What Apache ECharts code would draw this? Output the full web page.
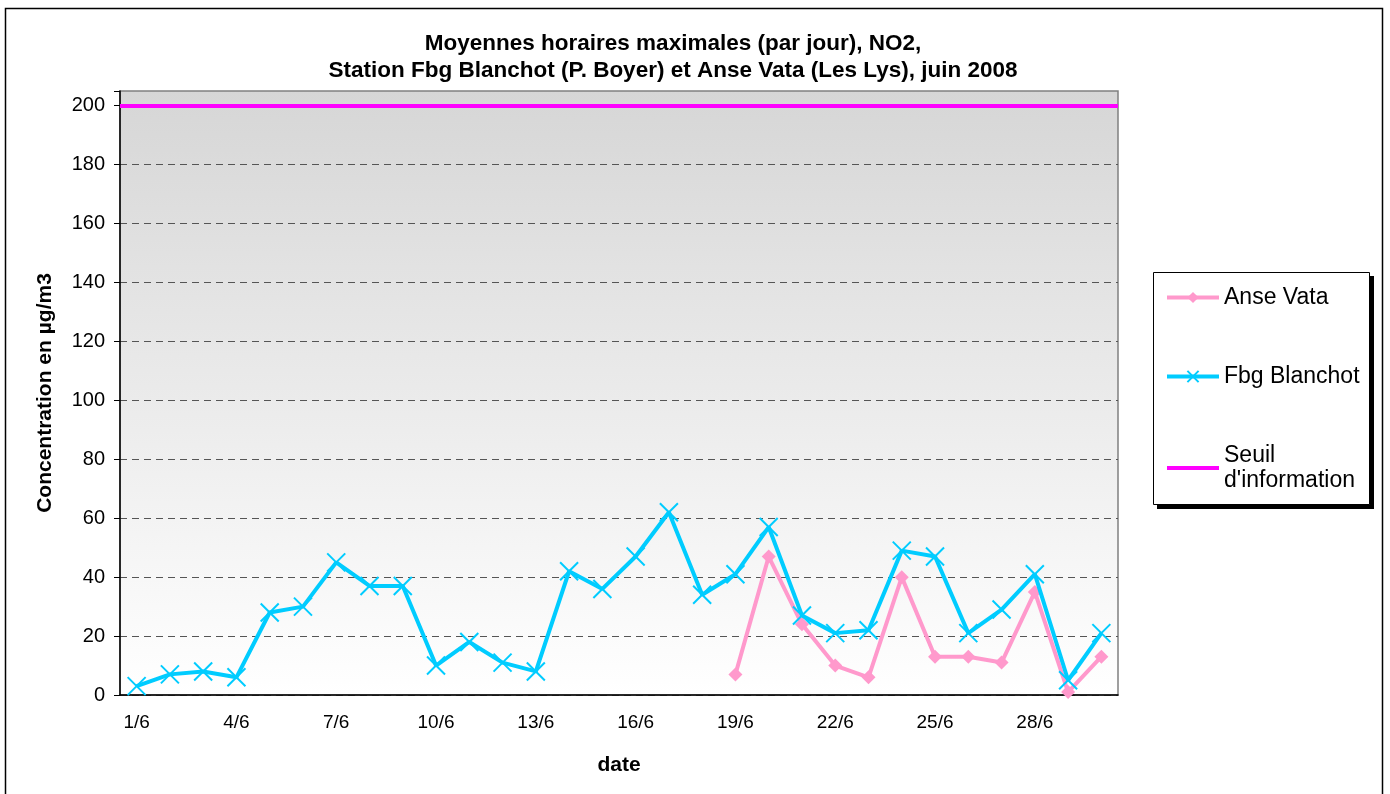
<!DOCTYPE html>
<html>
<head>
<meta charset="utf-8">
<script src="https://cdn.jsdelivr.net/npm/echarts@6/dist/echarts.min.js"></script>
<style>html,body{margin:0;padding:0;background:#fff;}#c{width:1390px;height:794px;}</style>
</head>
<body>
<div id="c"></div>
<script>
const dates = ['1/6','2/6','3/6','4/6','5/6','6/6','7/6','8/6','9/6','10/6','11/6','12/6','13/6','14/6','15/6','16/6','17/6','18/6','19/6','20/6','21/6','22/6','23/6','24/6','25/6','26/6','27/6','28/6','29/6','30/6'];
const anseVata = [null,null,null,null,null,null,null,null,null,null,null,null,null,null,null,null,null,null,7,47,24,10,6,40,13,13,11,35,1,13];
const fbgBlanchot = [3,7,8,6,28,30,45,37,37,10,18,11,8,42,36,47,62,34,41,57,27,21,22,49,47,21,29,41,5,21];
const seuilInformation = 200;
const yTicks = [0,20,40,60,80,100,120,140,160,180,200];

const FONT = '"Liberation Sans", Arial, sans-serif';
const chart = echarts.init(document.getElementById('c'), null, {renderer: 'canvas'});
chart.setOption({
  backgroundColor: '#ffffff',
  animation: false,
  textStyle: {fontFamily: FONT},
  title: {
    text: 'Moyennes horaires maximales (par jour), NO2,\nStation Fbg Blanchot (P. Boyer) et Anse Vata (Les Lys), juin 2008',
    left: 668, top: 25, textAlign: 'center',
    textStyle: {fontFamily: FONT, fontSize: 22.5, fontWeight: 'bold', color: '#000', lineHeight: 27}
  },
  graphic: [
    {type: 'rect', shape: {x: 5.5, y: 8.5, width: 1377, height: 800}, style: {fill: 'none', stroke: '#000', lineWidth: 1.5}, z: 0, silent: true},
    {type: 'rect', shape: {x: 1157, y: 276, width: 217, height: 233}, style: {fill: '#000'}, z: 0, silent: true},
    {type: 'rect', shape: {x: 1153.5, y: 272.5, width: 216, height: 232}, style: {fill: '#fff', stroke: '#000', lineWidth: 1}, z: 1, silent: true}
  ],
  legend: {
    orient: 'vertical', left: 1160, top: 280, itemWidth: 52, itemHeight: 14, itemGap: 54,
    textStyle: {fontFamily: FONT, fontSize: 23, color: '#000', lineHeight: 25},
    lineStyle: {width: 4},
    formatter: function (n) { return n === "Seuil d'information" ? "Seuil\nd'information" : n; },
    data: ['Anse Vata', 'Fbg Blanchot', "Seuil d'information"],
    z: 5
  },
  grid: {
    left: 120, right: 272, top: 91, bottom: 99, show: true,
    backgroundColor: new echarts.graphic.LinearGradient(0, 0, 0, 1, [
      {offset: 0, color: '#d6d6d6'}, {offset: 1, color: '#ffffff'}
    ]),
    borderColor: '#808080', borderWidth: 1.5
  },
  xAxis: {
    type: 'category', data: dates, boundaryGap: true,
    name: 'date', nameLocation: 'middle', nameGap: 60,
    nameTextStyle: {fontFamily: FONT, fontSize: 21, fontWeight: 'bold', color: '#000'},
    axisLine: {lineStyle: {color: '#000', width: 1.5}},
    axisTick: {interval: 2, length: 6, lineStyle: {color: '#000'}},
    axisLabel: {interval: 2, fontFamily: FONT, fontSize: 19, color: '#000', margin: 18},
    splitLine: {show: false}
  },
  yAxis: {
    type: 'value', min: 0, max: 205, interval: 20,
    name: 'Concentration en µg/m3', nameLocation: 'middle', nameGap: 64,
    nameTextStyle: {fontFamily: FONT, fontSize: 21, fontWeight: 'bold', color: '#000'},
    axisLine: {show: true, lineStyle: {color: '#000', width: 1.5}},
    axisTick: {show: true, length: 6, lineStyle: {color: '#000'}},
    axisLabel: {fontFamily: FONT, fontSize: 20, color: '#000', margin: 15, customValues: yTicks},
    splitLine: {show: true, showMaxLine: false, lineStyle: {color: '#555', type: [7, 5], width: 1.2}}
  },
  series: [
    {
      name: 'Anse Vata', type: 'line', data: anseVata, connectNulls: false,
      symbol: 'diamond', symbolSize: 14,
      lineStyle: {color: '#ff99cc', width: 4},
      itemStyle: {color: '#ff99cc'}, z: 3
    },
    {
      name: 'Fbg Blanchot', type: 'line', data: fbgBlanchot,
      symbol: 'path://M0,0 L10,10 M10,0 L0,10', symbolSize: 18,
      lineStyle: {color: '#00ccff', width: 4},
      itemStyle: {color: 'rgba(0,0,0,0)', borderColor: '#00ccff', borderWidth: 2}, z: 4
    },
    {
      name: "Seuil d'information", type: 'line', data: [], symbol: 'circle',
      lineStyle: {color: '#ff00ff', width: 4},
      itemStyle: {color: 'rgba(0,0,0,0)'},
      markLine: {
        silent: true, symbol: ['none', 'none'], label: {show: false},
        lineStyle: {color: '#ff00ff', width: 4, type: 'solid'},
        data: [{yAxis: seuilInformation}]
      }, z: 5
    }
  ]
});
</script>
</body>
</html>
